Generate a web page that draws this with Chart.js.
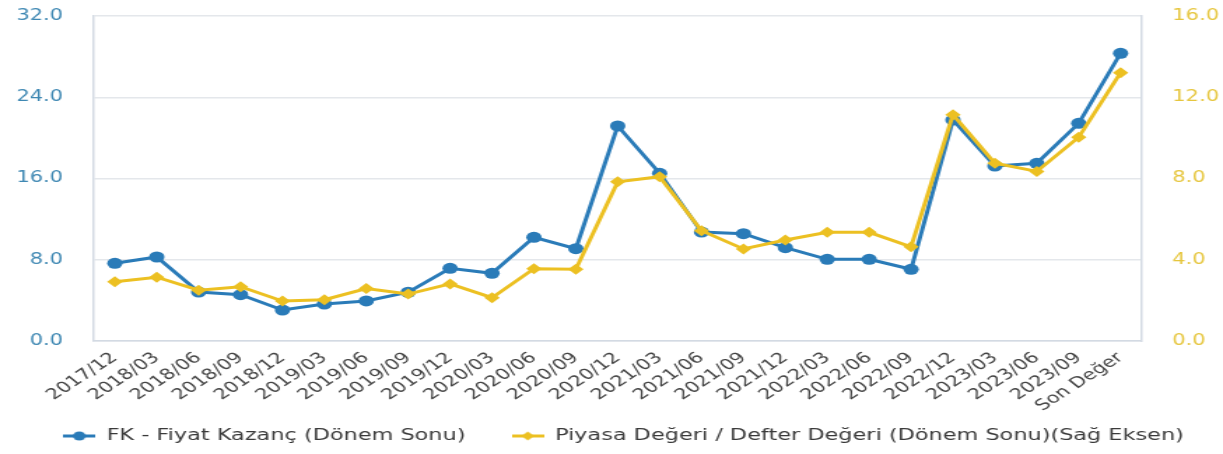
<!DOCTYPE html>
<html>
<head>
<meta charset="utf-8">
<script src="https://cdn.jsdelivr.net/npm/chart.js@4/dist/chart.umd.min.js"></script>
<style>
  html, body { margin: 0; padding: 0; background: #fff; overflow: hidden; }
  /* the reference is stretched sideways, so draw narrow and scale it */
  #wrap { width: 874px; height: 454px; transform: scaleX(1.3993); transform-origin: 0 0; }
  #chart { width: 874px; height: 454px; }
</style>
</head>
<body>
<div id="wrap"><canvas id="chart" width="874" height="454"></canvas></div>
<script>
const labels = ['2017/12', '2018/03', '2018/06', '2018/09', '2018/12', '2019/03', '2019/06', '2019/09',
  '2019/12', '2020/03', '2020/06', '2020/09', '2020/12', '2021/03', '2021/06', '2021/09', '2021/12',
  '2022/03', '2022/06', '2022/09', '2022/12', '2023/03', '2023/06', '2023/09', 'Son Değer'];
const fkValues = [7.65, 8.27, 4.82, 4.56, 3.05, 3.64, 3.94, 4.8, 7.16, 6.67, 10.21, 9.09, 21.17, 16.51,
  10.73, 10.57, 9.19, 8.04, 8.04, 7.06, 21.76, 17.23, 17.5, 21.43, 28.33];
const pdddValues = [2.92, 3.14, 2.5, 2.67, 1.97, 2.03, 2.58, 2.31, 2.81, 2.13, 3.56, 3.53, 7.84, 8.09,
  5.43, 4.53, 4.97, 5.35, 5.35, 4.64, 11.14, 8.75, 8.35, 10.03, 13.21];
const leftTicks = [0, 8, 16, 24, 32];
const rightTicks = [0, 4, 8, 12, 16];

const BLUE = '#2a7bb8';
const GOLD = '#ecc022';
const GRID = '#e4e7eb';
const FRAME = '#d3dae3';

// legend markers: short line with the point on it
function marker(color, diamond) {
  const c = document.createElement('canvas');
  c.width = 23; c.height = 12;
  const ctx = c.getContext('2d');
  ctx.strokeStyle = color;
  ctx.fillStyle = color;
  ctx.lineWidth = 3;
  ctx.beginPath(); ctx.moveTo(0, 6); ctx.lineTo(23, 6); ctx.stroke();
  ctx.beginPath();
  if (diamond) {
    ctx.moveTo(11.5, 1.5); ctx.lineTo(16, 6); ctx.lineTo(11.5, 10.5); ctx.lineTo(7, 6); ctx.closePath();
  } else {
    ctx.arc(11.5, 6, 4.5, 0, Math.PI * 2);
  }
  ctx.fill();
  return c;
}
const markers = [marker(BLUE, false), marker(GOLD, true)];

const font = { family: '"DejaVu Sans", Verdana, sans-serif' };

// keep the plot top where the reference has it, whatever the tick padding
const fixTop = (s, width) => {
  s.width = width;
  s.paddingTop = 16;
  s.paddingBottom = 0;
};

new Chart(document.getElementById('chart'), {
  type: 'line',
  data: {
    labels: labels,
    datasets: [{
      label: 'FK - Fiyat Kazanç (Dönem Sonu)',
      data: fkValues,
      yAxisID: 'y',
      order: 1,
      borderColor: BLUE,
      backgroundColor: BLUE,
      borderWidth: 3,
      pointStyle: 'circle',
      pointRadius: 5.5,
      pointBorderWidth: 0,
      tension: 0
    }, {
      label: 'Piyasa Değeri / Defter Değeri (Dönem Sonu)(Sağ Eksen)',
      data: pdddValues,
      yAxisID: 'y1',
      order: 0,
      borderColor: GOLD,
      backgroundColor: GOLD,
      borderWidth: 3,
      pointStyle: 'rectRot',
      pointRadius: 5.5,
      pointBorderWidth: 0,
      tension: 0
    }]
  },
  options: {
    responsive: false,
    animation: false,
    // legend sits a little right of centre in the reference
    layout: { padding: { top: 0, left: 8.6, right: -8.6, bottom: 0 } },
    plugins: {
      tooltip: { enabled: false },
      legend: {
        position: 'bottom',
        labels: {
          usePointStyle: true,
          pointStyleWidth: 23,
          padding: 33,
          textAlign: 'left',
          color: '#3a3a3a',
          font: { ...font, size: 16 },
          sort: (a, b) => a.datasetIndex - b.datasetIndex,
          generateLabels: (chart) => {
            const items = Chart.defaults.plugins.legend.labels.generateLabels(chart);
            items.forEach(it => { it.pointStyle = markers[it.datasetIndex]; });
            return items;
          }
        }
      }
    },
    scales: {
      x: {
        offset: true,
        grid: { display: false, drawTicks: false },
        border: { display: true, color: FRAME, width: 1.5 },
        ticks: {
          color: '#444',
          font: { ...font, size: 15 },
          minRotation: 42,
          maxRotation: 42,
          autoSkip: false,
          padding: 8
        },
        afterFit: (s) => {
          s.height = 54;
          // long rotated labels run past the axis box, don't clip them
          s._computeLabelArea = () => undefined;
        }
      },
      y: {
        position: 'left',
        min: 0,
        max: 32,
        afterBuildTicks: (s) => { s.ticks = leftTicks.map(v => ({ value: v })); },
        grid: { color: GRID, lineWidth: 1.5, drawTicks: false },
        border: { display: true, color: FRAME, width: 1.5 },
        ticks: {
          color: '#3f88b3',
          font: { ...font, size: 15 },
          padding: 22,
          callback: (v) => Number(v).toFixed(1)
        },
        afterFit: (s) => fixTop(s, 58.5)
      },
      y1: {
        position: 'right',
        min: 0,
        max: 16,
        afterBuildTicks: (s) => { s.ticks = rightTicks.map(v => ({ value: v })); },
        grid: { drawOnChartArea: false, drawTicks: false },
        border: { display: true, color: FRAME, width: 1.5 },
        ticks: {
          color: '#e6c63e',
          font: { ...font, size: 15 },
          padding: 22,
          callback: (v) => Number(v).toFixed(1)
        },
        afterFit: (s) => fixTop(s, 66.8)
      }
    }
  }
});
</script>
</body>
</html>
